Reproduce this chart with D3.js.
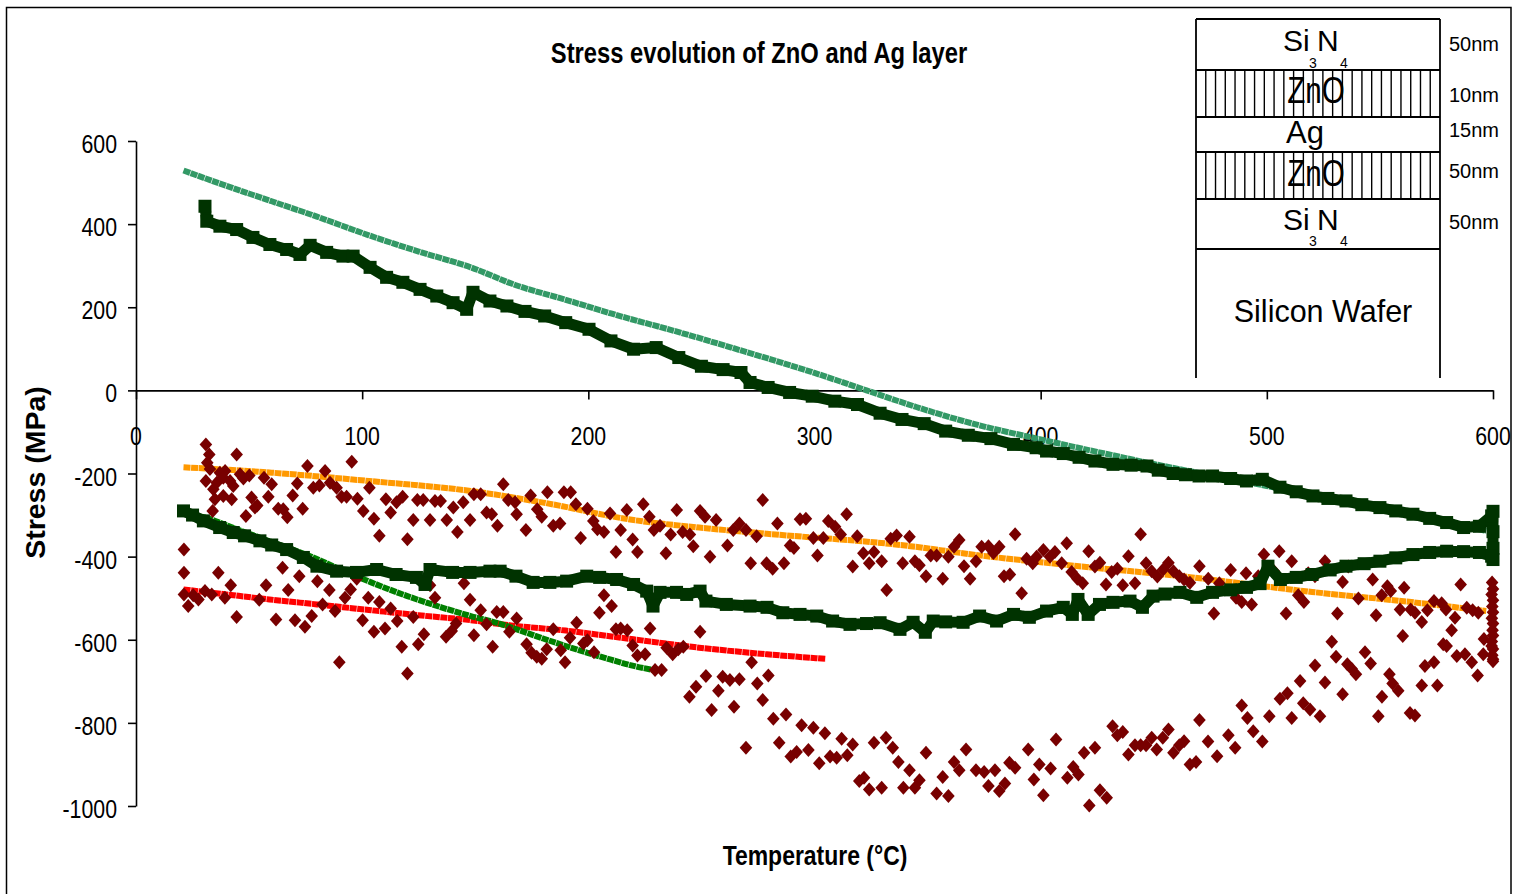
<!DOCTYPE html>
<html>
<head>
<meta charset="utf-8">
<script src="https://cdn.jsdelivr.net/npm/d3@7"></script>
<style>
  html, body { margin: 0; padding: 0; background: #ffffff; }
  svg { display: block; font-family: "Liberation Sans", Arial, sans-serif; }
</style>
</head>
<body>
<svg id="chart" width="1513" height="894"></svg>
<script>
// Axis ticks
const temperatureTicks = [0, 100, 200, 300, 400, 500, 600];
const stressTicks = [-1000, -800, -600, -400, -200, 0, 200, 400, 600];

// Dense marker traces, drawn as continuous lines: [temperature °C, stress MPa]
const seaGreenTrace = [[21,529],[40,492],[60,455],[80,418],[103,373],[125,334],[148,296],[168,253],[190,218],[210,185],[240,140],[270,92],[300,42],[323,0],[345,-40],[370,-80],[400,-118],[425,-148],[448,-175],[475,-204],[500,-230],[525,-258],[550,-285],[575,-312],[597,-338]];
const orangeTrace = [[21,-185],[60,-198],[103,-218],[148,-242],[180,-270],[220,-312],[249,-330],[279,-345],[338,-372],[373,-397],[417,-423],[462,-447],[520,-485],[565,-510],[597,-531]];
const redTrace = [[21,-479],[40,-491],[59,-503],[80,-515],[104,-529],[125,-541],[148,-553],[165,-565],[190,-578],[220,-599],[249,-619],[279,-635],[305,-646]];
const greenTrace = [[21,-295],[30,-305],[45,-335],[60,-365],[77,-399],[90,-430],[104,-462],[120,-495],[135,-522],[148,-543],[160,-560],[170,-578],[180,-597],[190,-615],[200,-632],[210,-648],[220,-663],[229,-673]];

// Dark green square markers
const darkGreenUpper = [[30.5,443],[31.3,407],[37.1,395],[44.5,387],[51.7,368],[59.2,351],[66.6,339],[72.5,327],[77,349],[84.3,332],[91.5,323],[96,323],[103.5,296],[110.8,272],[118,260],[125.6,243],[133,227],[140.2,211],[146.2,195],[149,236],[156.5,215],[164,203],[172,190],[180.7,179],[190,163],[200.3,147],[210,119],[220,99],[230,103],[240,79],[250,58],[259.6,50],[267.5,43],[271.5,19],[279.5,7],[289,-5],[299,-14],[309,-26],[319,-34],[329,-55],[338.7,-70],[348.5,-80],[358,-98],[368,-108],[378,-116],[388,-130],[398,-138],[402.6,-146],[410,-152],[417,-161],[424,-170],[432,-178],[440,-180],[447,-182],[452,-192],[458.6,-200],[464,-203],[470,-206],[476,-206],[484,-212],[491,-218],[498,-214],[505.8,-233],[513,-244],[520.4,-254],[527,-260],[535,-266],[542,-275],[550,-282],[557,-290],[564.6,-298],[572,-308],[579.5,-318],[587,-330],[594,-327],[599.4,-302],[600,-291],[600,-340],[600,-380],[600,-407]];
const darkGreenLower = [[21,-290],[25,-300],[29.8,-314],[37,-330],[43,-342],[48,-350],[54.8,-362],[60,-372],[66.6,-383],[74,-402],[80,-423],[88.7,-435],[97.5,-438],[106.4,-431],[115,-443],[124,-450],[127.8,-467],[130,-431],[140,-438],[147.7,-438],[156.5,-435],[161,-435],[168,-447],[175.6,-462],[183,-462],[190.4,-459],[199.3,-447],[205,-450],[212.5,-455],[220,-467],[225.8,-483],[228.6,-519],[231.7,-486],[239,-486],[243.5,-491],[249.4,-483],[252,-507],[261,-515],[271.5,-519],[279,-522],[286,-535],[293.6,-539],[301,-543],[308,-555],[315.7,-563],[323,-561],[329,-559],[337.8,-575],[343.6,-558],[349,-582],[352.5,-555],[358,-557],[365.7,-558],[373,-543],[380.5,-555],[388,-539],[395,-546],[402.6,-531],[410,-522],[414,-539],[416.5,-503],[421,-539],[426,-515],[432,-510],[439.5,-507],[445,-522],[449.7,-495],[455,-490],[461.6,-486],[469,-498],[476,-486],[484,-480],[491,-474],[497,-465],[500.5,-423],[506,-455],[513,-450],[520,-443],[528,-432],[535,-423],[543,-417],[550,-411],[557,-403],[564.6,-395],[572,-390],[579.5,-387],[587,-388],[594,-390],[599.4,-399]];

// Maroon diamond markers
const maroonUpper = [[30.9,-130],[32.4,-154],[31.5,-174],[32.7,-189],[30.9,-218],[44.5,-154],[37.1,-198],[39.4,-194],[35.7,-222],[34.2,-238],[38.6,-210],[41.6,-218],[43.0,-230],[46.0,-202],[47.5,-212],[50.1,-205],[34.9,-262],[38.6,-254],[42.3,-262],[33.9,-290],[48.6,-302],[51.1,-258],[53.6,-277],[52.6,-282],[58.5,-256],[56.6,-210],[60.0,-226],[62.9,-285],[65.1,-286],[66.9,-305],[69.3,-253],[71.3,-224],[73.7,-285],[75.8,-182],[78.4,-234],[81.1,-229],[83.6,-194],[85.8,-222],[88.7,-234],[90.9,-256],[93.1,-256],[95.4,-172],[97.9,-261],[100.5,-290],[103.2,-234],[105.2,-309],[107.6,-350],[110.5,-262],[112.6,-294],[115.2,-269],[117.9,-256],[120.0,-358],[122.6,-312],[124.4,-264],[127.0,-264],[130.0,-312],[132.2,-266],[134.7,-266],[137.4,-312],[140.3,-282],[142.1,-341],[144.7,-269],[147.7,-312],[149.4,-250],[152.4,-250],[155.0,-294],[157.3,-298],[159.8,-326],[162.4,-226],[164.6,-264],[168.3,-298],[167.6,-269],
  [172.4,-336],[174.5,-253],[177.4,-286],[179.4,-304],[181.9,-245],[184.5,-326],[187.5,-320],[189.2,-245],[192.2,-245],[194.5,-274],[196.6,-355],[199.6,-285],[202.2,-314],[204.0,-334],[206.9,-341],[209.6,-296],[212.2,-389],[214.3,-336],[217.0,-288],[219.6,-359],[221.7,-389],[224.3,-274],[227.0,-304],[229.0,-336],[231.7,-326],[234.3,-392],[236.4,-347],[239.1,-288],[241.7,-341],[244.9,-347],[246.4,-375],[249.4,-290],[251.6,-304],[253.8,-400],[256.5,-312],[261.5,-373],[264.1,-336],[266.8,-320],[269.7,-336],[271.8,-416],[274.4,-351],[277.1,-264],[278.8,-416],[281.5,-429],[283.6,-320],[286.5,-416],[289.2,-373],[290.9,-379],[293.6,-310],[296.2,-309],[299.5,-355],[301.3,-397],[303.9,-355],[306.1,-314],[309.1,-328],[311.6,-347],[314.2,-298],[316.9,-424],[318.9,-351],[321.6,-392],[324.2,-416],[326.3,-389],
  [329.7,-411],[331.9,-480],[333.7,-357],[336.3,-349],[339.0,-416],[342.0,-352],[344.4,-411],[346.4,-421],[349.3,-447],[351.4,-397],[354.0,-397],[356.7,-453],[359.2,-400],[361.7,-376],[364.0,-360],[366.1,-423],[368.8,-453],[371.4,-411],[373.9,-376],[376.9,-375],[379.1,-391],[381.7,-376],[383.8,-447],[386.4,-443],[388.7,-346],[391.6,-488],[393.8,-405],[396.5,-416],[398.2,-400],[401.2,-384],[404.1,-400],[406.3,-389],[409.3,-416],[411.5,-368],[413.7,-437],[416.2,-453],[418.6,-464],[421.2,-387],[424.0,-424],[426.2,-415],[428.9,-467],[431.4,-437],[433.9,-429],[436.3,-469],[438.8,-399],[441.7,-464],[444.2,-346],[446.6,-416],[449.1,-435],[451.6,-448],[454.2,-431],[456.5,-415],[458.7,-435],[461.3,-447],[463.4,-455],[466.0,-463],[470.2,-423],
  [474.1,-453],[476.6,-537],[479.0,-464],[484.0,-432],[486.4,-499],[488.9,-509],[490.8,-440],[493.3,-515],[496.2,-447],[498.7,-395],[503.2,-435],[505.5,-387],[508.5,-537],[511.0,-411],[513.9,-493],[516.4,-509],[518.3,-440],[521.3,-447],[525.7,-411],[531.2,-537],[533.5,-461],[536.0,-424],[540.5,-501],[546.8,-455],[548.3,-541],[550.8,-493],[553.3,-471],[554.8,-483],[560.7,-475],[558.9,-527],[563.6,-527],[565.5,-535],[568.5,-557],[571.0,-529],[573.9,-507],[577.3,-512],[579.2,-527],[583.2,-547],[585.7,-467],[588.4,-523],[591.0,-529],[593.5,-535]];
const maroonLower = [[21.2,-383],[21.2,-439],[21.2,-491],[23.1,-519],[25.3,-493],[27.6,-503],[30.5,-483],[33.5,-491],[36.4,-439],[39.3,-499],[41.9,-469],[44.5,-545],[54.5,-504],[57.5,-469],[61.9,-551],[64.8,-427],[67.3,-480],[70.3,-553],[72.2,-447],[74.7,-569],[77.7,-543],[80.2,-459],[82.5,-515],[85.5,-480],[88.0,-531],[89.9,-654],[92.4,-499],[94.9,-479],[97.6,-453],[100.2,-553],[102.7,-499],[105.2,-581],[107.6,-509],[110.1,-573],[112.6,-525],[115.5,-555],[117.5,-617],[120.0,-681],[122.6,-545],[124.8,-611],[127.3,-587],[130.0,-469],[132.2,-499],[137.1,-593],[139.6,-579],[141.5,-561],[145.0,-464],[147.7,-504],[149.4,-589],[152.4,-529],[155.0,-563],[157.7,-617],[159.5,-533],[162.4,-533],[165.1,-581],[168.3,-549],
  [172.7,-611],[174.9,-631],[177.2,-641],[179.4,-646],[181.6,-623],[184.5,-575],[187.8,-625],[189.7,-654],[191.9,-595],[194.8,-559],[197.8,-609],[199.6,-601],[202.5,-630],[204.9,-535],[206.9,-493],[210.3,-519],[212.2,-575],[214.3,-573],[217.2,-577],[219.6,-614],[221.7,-638],[225.1,-635],[227.3,-573],[229.5,-673],[232.4,-673],[234.6,-619],[237.3,-635],[239.8,-623],[242.0,-617],[244.7,-737],[247.6,-713],[249.4,-581],[252.0,-687],[254.5,-769],[257.5,-723],[259.4,-689],[262.6,-697],[264.4,-761],[266.8,-695],[269.7,-860],[272.2,-654],[274.7,-705],[277.1,-745],[279.6,-686],[281.8,-790],[284.4,-848],[287.4,-780],[289.5,-881],[292.1,-870],[294.3,-806],[297.3,-865],[299.5,-812],[302.1,-897],[304.6,-825],[306.9,-881],[309.8,-884],[312.0,-838],[314.5,-878],[316.9,-852],[319.8,-940],[321.9,-932],[324.2,-960],[326.3,-848],
  [329.7,-956],[331.6,-836],[334.6,-860],[337.1,-894],[339.3,-956],[342.0,-914],[344.4,-956],[346.4,-938],[349.3,-872],[354.0,-970],[356.7,-930],[359.2,-976],[361.7,-894],[364.0,-914],[367.0,-864],[371.4,-914],[375.0,-918],[376.9,-952],[379.8,-914],[381.7,-964],[384.2,-946],[386.2,-896],[388.7,-908],[394.5,-864],[397.0,-936],[399.4,-900],[401.2,-974],[404.4,-910],[406.8,-840],[411.8,-932],[414.4,-906],[416.7,-924],[419.2,-872],[421.5,-999],[424.0,-860],[426.2,-962],[429.2,-980],[431.8,-808],[433.9,-830],[436.3,-822],[438.8,-876],[441.7,-854],[444.2,-854],[446.6,-854],[449.1,-836],[451.3,-864],[454.0,-836],[456.5,-816],[458.7,-872],[461.3,-854],[463.4,-844],[466.0,-900],[468.7,-894],[470.2,-793],
  [474,-845],[478,-880],[483,-830],[486,-860],[494,-820],[498,-845],
  [528.7,-605],[530.6,-641],[535.6,-659],[537.5,-670],[539.4,-683],[543.4,-630],[545.9,-657],[554.2,-683],[555.6,-705],[560.1,-591],[569.9,-663],[573.9,-654],[581.7,-577],[579.5,-615],[578.0,-611],[584.0,-639],[587.6,-635],[590.6,-654],[593.2,-686],[595.7,-635],[596.0,-598],[599.4,-615],[600,-647],
  [514.7,-699],[521.3,-662],[525.7,-703],[533.5,-731],[550.9,-737],[558.1,-723],[568.5,-710],[575.4,-710],[505.8,-742],[509.1,-729],[488.9,-758],[491.4,-788],[501.1,-784],[511.0,-788],[516.1,-753],[519.1,-768],[523.5,-784],[549.3,-784],[563.3,-776],[565.5,-782],
  [599.6,-462],[600,-478],[599.4,-491],[600,-505],[599.7,-520],[600,-534],[599.5,-548],[600,-561],[599.8,-577],[600,-590],[599.5,-604],[600,-622],[599.7,-637],[600,-652]];

// Layer stack shown in the inset
const layerNames = ["Si N", "ZnO", "Ag", "ZnO", "Si N", "Silicon Wafer"];
const layerThickness = ["50nm", "10nm", "15nm", "50nm", "50nm"];

const svg = d3.select("#chart");
const W = 1513, H = 894;

svg.append("rect").attr("width", W).attr("height", H).attr("fill", "#ffffff");
// outer frame
svg.append("rect").attr("x", 6.5).attr("y", 7.5).attr("width", 1504.5).attr("height", 900)
  .attr("fill", "none").attr("stroke", "#000").attr("stroke-width", 1.5);

const x = d3.scaleLinear().domain([0, 600]).range([136, 1493]);
const y = d3.scaleLinear().domain([-1000, 600]).range([806, 141]);

const NARROW = 0.82;
function label(parent, txt, px, py, o) {
  return parent.append("text")
    .attr("transform", `translate(${px},${py}) scale(${o.sx || 1},1)`)
    .attr("text-anchor", o.anchor || "start")
    .attr("font-size", o.size)
    .attr("font-weight", o.weight || "normal")
    .attr("fill", "#000")
    .text(txt);
}

// Axes
const xAxis = d3.axisBottom(x).tickValues(temperatureTicks).tickSize(9).tickSizeOuter(0).tickFormat("");
const yAxis = d3.axisLeft(y).tickValues(stressTicks).tickSize(8).tickSizeOuter(0).tickFormat("");
const gx = svg.append("g").attr("transform", `translate(0,${y(0)})`).call(xAxis);
const gy = svg.append("g").attr("transform", `translate(${x(0)},0)`).call(yAxis);
[gx, gy].forEach(g => {
  g.selectAll("path, line").attr("stroke", "#000").attr("stroke-width", 1.6);
});

temperatureTicks.forEach(t => label(svg, t, x(t), y(0) + 55, { size: 26, sx: NARROW, anchor: "middle" }));
stressTicks.forEach(s => label(svg, s, x(0) - 19, y(s) + 12, { size: 26, sx: NARROW, anchor: "end" }));

// Titles
label(svg, "Stress evolution of ZnO and Ag layer", 759, 63, { size: 29, sx: NARROW, anchor: "middle", weight: "bold" });
label(svg, "Temperature (°C)", 815, 865, { size: 28, sx: NARROW, anchor: "middle", weight: "bold" });
svg.append("text")
  .attr("transform", `translate(45,${y(-200) - 1}) rotate(-90)`)
  .attr("text-anchor", "middle").attr("font-size", 28.5).attr("font-weight", "bold")
  .text("Stress (MPa)");

// Data layer
const plot = svg.append("g");
const line = d3.line().x(d => x(d[0])).y(d => y(d[1]));
const smooth = d3.line().x(d => x(d[0])).y(d => y(d[1])).curve(d3.curveMonotoneX);

function trace(data, color) {
  plot.append("path").datum(data).attr("d", smooth)
    .attr("fill", "none").attr("stroke", color).attr("stroke-width", 6)
    .attr("stroke-dasharray", "7 0.6");
}
trace(seaGreenTrace, "#339966");
trace(orangeTrace, "#ff9900");
trace(redTrace, "#ff0000");
trace(greenTrace, "#008000");

// maroon diamonds
const diamond = "M0,-7L6.3,0L0,7L-6.3,0Z";
plot.append("g").selectAll("path").data(maroonUpper.concat(maroonLower)).join("path")
  .attr("d", diamond)
  .attr("transform", d => `translate(${x(d[0])},${y(d[1])})`)
  .attr("fill", "#780000");

// dark green square series
function squares(data) {
  plot.append("path").datum(data).attr("d", line)
    .attr("fill", "none").attr("stroke", "#003300").attr("stroke-width", 11).attr("stroke-linejoin", "round");
  plot.append("g").selectAll("rect").data(data).join("rect")
    .attr("x", d => x(d[0]) - 6.5).attr("y", d => y(d[1]) - 6.5)
    .attr("width", 13).attr("height", 13).attr("fill", "#003300");
}
squares(darkGreenUpper);
squares(darkGreenLower);

// Inset: thin-film stack
const inset = svg.append("g");
const L = 1196, R = 1440;
const bounds = [19, 70, 117, 152, 199, 249];
const hatched = [1, 3];
hatched.forEach(i => {
  const top = bounds[i], bot = bounds[i + 1];
  d3.range(1, 25).forEach(k => {
    const hx = L + k * (R - L) / 25;
    inset.append("line").attr("x1", hx).attr("x2", hx).attr("y1", top).attr("y2", bot)
      .attr("stroke", "#000").attr("stroke-width", 1.4);
  });
});
bounds.forEach(b => inset.append("line").attr("x1", L).attr("x2", R).attr("y1", b).attr("y2", b)
  .attr("stroke", "#000").attr("stroke-width", 1.8));
[L, R].forEach(v => inset.append("line").attr("x1", v).attr("x2", v).attr("y1", 19).attr("y2", 378)
  .attr("stroke", "#000").attr("stroke-width", 1.8));

// Si3N4 labels with lowered subscripts
[[50.5, 67.5], [229.5, 246]].forEach(([base, sub]) => {
  label(inset, "Si", 1283, base, { size: 30 });
  label(inset, "N", 1317, base, { size: 30 });
  label(inset, "3", 1313, sub, { size: 14, anchor: "middle" });
  label(inset, "4", 1344, sub, { size: 14, anchor: "middle" });
});
label(inset, layerNames[1], 1316, 103, { size: 37, sx: 0.8, anchor: "middle" });
label(inset, layerNames[2], 1305, 143, { size: 31, anchor: "middle" });
label(inset, layerNames[3], 1316, 186, { size: 37, sx: 0.8, anchor: "middle" });
label(inset, layerNames[5], 1323, 322, { size: 30.5, anchor: "middle" });
const thickBase = [50.5, 101.5, 137, 178, 229];
layerThickness.forEach((t, i) => label(inset, t, 1449, thickBase[i], { size: 20 }));
</script>
</body>
</html>
